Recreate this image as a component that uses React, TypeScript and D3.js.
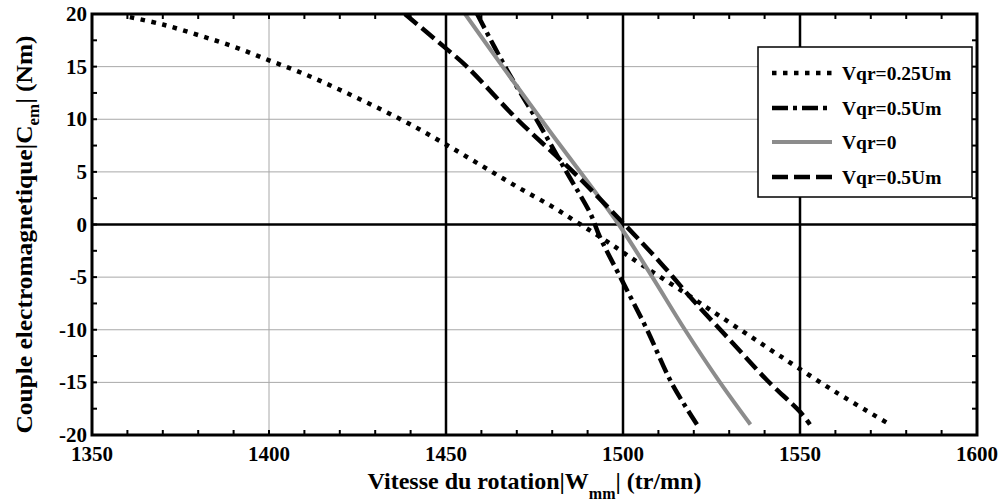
import React from "react";
import * as d3 from "d3";

// Torque–speed characteristics for several rotor voltages
type Pt = [number, number];

const speedQuarter: number[] = [1360.7, 1370, 1380, 1390, 1400, 1410, 1420, 1430, 1440, 1450, 1460, 1470, 1480, 1488, 1495, 1502, 1517, 1530, 1543.5, 1560, 1575.4];
const torqueQuarter: number[] = [19.7, 19.0, 18.0, 16.9, 15.6, 14.3, 12.8, 11.2, 9.5, 7.6, 5.6, 3.6, 1.7, 0.0, -1.5, -3.1, -6.4, -9.3, -12.3, -15.9, -19.0];

const speedHalfA: number[] = [1458.8, 1467.2, 1475.7, 1484.2, 1490.7, 1493.5, 1500.0, 1506.8, 1513.8, 1520.9];
const torqueHalfA: number[] = [20.0, 14.7, 9.9, 4.9, 1.1, -1.2, -5.5, -10.0, -15.1, -19.0];

const speedZero: number[] = [1455.4, 1466.0, 1479.0, 1498.8, 1508.3, 1517.5, 1527.4, 1536.0];
const torqueZero: number[] = [20.0, 15.0, 9.0, 0.0, -5.0, -10.0, -15.0, -19.0];

const speedHalfB: number[] = [1438.4, 1449.4, 1455.9, 1470.1, 1486.2, 1500.3, 1510.5, 1519.8, 1531.1, 1540.7, 1550.0, 1552.8];
const torqueHalfB: number[] = [20.0, 16.9, 15.0, 10.0, 4.9, 0.05, -3.6, -7.2, -11.3, -14.8, -17.8, -19.0];

const xTicks: number[] = [1350, 1400, 1450, 1500, 1550, 1600];
const yTicks: number[] = [-20, -15, -10, -5, 0, 5, 10, 15, 20];
const refSpeeds: number[] = [1450, 1500, 1550];
const legendLabels: string[] = ["Vqr=0.25Um", "Vqr=0.5Um", "Vqr=0", "Vqr=0.5Um"];

const W = 1007;
const H = 501;
const L = 92, R = 977, T = 14, B = 435;
const FONT = "'Liberation Serif', 'Times New Roman', serif";

const x = d3.scaleLinear().domain([1350, 1600]).range([L, R]);
const y = d3.scaleLinear().domain([-20, 20]).range([B, T]);

const zip = (a: number[], b: number[]): Pt[] => a.map((v, i) => [v, b[i]]);

const line = d3
  .line<Pt>()
  .x((d) => x(d[0]))
  .y((d) => y(d[1]))
  .curve(d3.curveCatmullRom.alpha(0.5));

const styles = [
  { data: zip(speedQuarter, torqueQuarter), stroke: "#000", width: 4.5, dash: "4.5 6.5" },
  { data: zip(speedHalfA, torqueHalfA), stroke: "#000", width: 4.5, dash: "16 5 4 5" },
  { data: zip(speedZero, torqueZero), stroke: "#8c8c8c", width: 4, dash: undefined as string | undefined },
  { data: zip(speedHalfB, torqueHalfB), stroke: "#000", width: 4.5, dash: "16 6" },
];

export default function App() {
  const minorX = d3.range(1350, 1600.01, 10);
  const minorY = d3.range(-20, 20.01, 2.5);
  const legendX0 = 772, legendX1 = 832;
  const legendRows = [73, 108, 142, 177];

  return (
    <svg width={W} height={H} style={{ position: "absolute", left: 0, top: 0, background: "#fff" }}>
      <defs>
        <clipPath id="plotClip">
          <rect x={L} y={T} width={R - L} height={B - T} />
        </clipPath>
      </defs>
      <rect x={0} y={0} width={W} height={H} fill="#fff" />

      {/* grid */}
      {xTicks.slice(1, -1).map((v) => (
        <line key={"gx" + v} x1={x(v)} x2={x(v)} y1={T} y2={B} stroke="#a8a8a8" strokeWidth={1} />
      ))}
      {yTicks.slice(1, -1).map((v) => (
        <line key={"gy" + v} x1={L} x2={R} y1={y(v)} y2={y(v)} stroke="#a8a8a8" strokeWidth={1} />
      ))}

      {/* zero torque and reference speed lines */}
      <line x1={L} x2={R} y1={y(0)} y2={y(0)} stroke="#000" strokeWidth={2.5} />
      {refSpeeds.map((v) => (
        <line key={"rs" + v} x1={x(v)} x2={x(v)} y1={T} y2={B} stroke="#000" strokeWidth={2.5} />
      ))}

      {/* curves */}
      <g clipPath="url(#plotClip)">
        {styles.map((s, i) => (
          <path
            key={"c" + i}
            d={line(s.data) || ""}
            fill="none"
            stroke={s.stroke}
            strokeWidth={s.width}
            strokeDasharray={s.dash}
          />
        ))}
      </g>

      {/* ticks */}
      {minorX.map((v) => (
        <g key={"tx" + v}>
          <line x1={x(v)} x2={x(v)} y1={B} y2={B - 5} stroke="#000" strokeWidth={2} />
          <line x1={x(v)} x2={x(v)} y1={T} y2={T + 5} stroke="#000" strokeWidth={2} />
        </g>
      ))}
      {minorY.map((v) => (
        <g key={"ty" + v}>
          <line x1={L} x2={L + 5} y1={y(v)} y2={y(v)} stroke="#000" strokeWidth={2} />
          <line x1={R} x2={R - 5} y1={y(v)} y2={y(v)} stroke="#000" strokeWidth={2} />
        </g>
      ))}

      {/* axes box */}
      <rect x={L} y={T} width={R - L} height={B - T} fill="none" stroke="#000" strokeWidth={3} />

      {/* tick labels */}
      {xTicks.map((v) => (
        <text key={"lx" + v} x={x(v)} y={B + 26} textAnchor="middle" fontFamily={FONT} fontWeight="bold" fontSize={21}>
          {v}
        </text>
      ))}
      {yTicks.map((v) => (
        <text key={"ly" + v} x={L - 5} y={y(v) + 7} textAnchor="end" fontFamily={FONT} fontWeight="bold" fontSize={21}>
          {v}
        </text>
      ))}

      {/* axis titles */}
      <text x={(L + R) / 2} y={489} textAnchor="middle" fontFamily={FONT} fontWeight="bold" fontSize={24}>
        Vitesse du rotation|W
        <tspan fontSize={16} dy={10}>mm</tspan>
        <tspan dy={-10}>|  (tr/mn)</tspan>
      </text>
      <text
        transform={`translate(32, ${(T + B) / 2 + 10}) rotate(-90) scale(1.06, 1)`}
        textAnchor="middle"
        fontFamily={FONT}
        fontWeight="bold"
        fontSize={24}
      >
        Couple electromagnetique|C
        <tspan fontSize={16} dy={7}>em</tspan>
        <tspan dy={-7}>| (Nm)</tspan>
      </text>

      {/* legend */}
      <rect x={758} y={47} width={214} height={150} fill="#fff" stroke="#000" strokeWidth={1.5} />
      {styles.map((s, i) => (
        <g key={"lg" + i}>
          <line
            x1={legendX0}
            x2={legendX1}
            y1={legendRows[i]}
            y2={legendRows[i]}
            stroke={s.stroke}
            strokeWidth={s.width}
            strokeDasharray={s.dash}
          />
          <text x={842} y={legendRows[i] + 7} fontFamily={FONT} fontWeight="bold" fontSize={19.5}>
            {legendLabels[i]}
          </text>
        </g>
      ))}
    </svg>
  );
}
